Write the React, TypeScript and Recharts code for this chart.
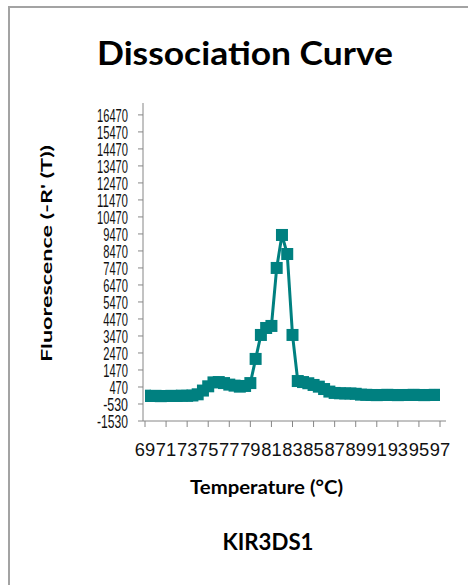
import * as React from "react";
import { LineChart, Line, XAxis, YAxis } from "recharts";

// Temperature (°C), one reading every 0.5 degree
const temperatures = [
  69, 69.5, 70, 70.5, 71, 71.5, 72, 72.5, 73, 73.5, 74, 74.5, 75, 75.5, 76,
  76.5, 77, 77.5, 78, 78.5, 79, 79.5, 80, 80.5, 81, 81.5, 82, 82.5, 83, 83.5,
  84, 84.5, 85, 85.5, 86, 86.5, 87, 87.5, 88, 88.5, 89, 89.5, 90, 90.5, 91,
  91.5, 92, 92.5, 93, 93.5, 94, 94.5, 95, 95.5, 96, 96.5, 97,
];

// Fluorescence (-R'(T))
const fluorescence = [
  -40, -60, -50, -70, -60, -50, -60, -40, -50, -30, 40, 260, 510, 740, 760,
  700, 610, 550, 490, 530, 700, 2120, 3530, 3940, 4060, 7470, 9410, 8290, 3530,
  820, 760, 690, 590, 490, 350, 200, 120, 100, 90, 90, 70, 20, 10, 0, -10, 0,
  10, 0, -10, 0, 0, 10, 0, -10, 0, 10, 0,
];

const xTicks = [69, 71, 73, 75, 77, 79, 81, 83, 85, 87, 89, 91, 93, 95, 97];
const yTicks = [
  -1530, -530, 470, 1470, 2470, 3470, 4470, 5470, 6470, 7470, 8470, 9470,
  10470, 11470, 12470, 13470, 14470, 15470, 16470,
];

const TEAL = "#008080";
const AXIS_GREY = "#868686";
const LABEL_FONT = "Lato, 'Open Sans', sans-serif";
const TICK_FONT = "'Liberation Sans', Arial, sans-serif";

function SquareDot(props: any) {
  const { cx, cy, index } = props;
  if (cx == null || cy == null) return null;
  return (
    <rect
      key={`dot-${index}`}
      x={cx - 6}
      y={cy - 6}
      width={12}
      height={12}
      fill={TEAL}
    />
  );
}

function YTick(props: any) {
  const { x, y, payload } = props;
  const label = String(payload.value);
  return (
    <text
      x={x}
      y={y}
      dy="0.36em"
      textAnchor="end"
      fontSize={19}
      fontFamily={TICK_FONT}
      fill="#111"
      textLength={label.length * 6.2}
      lengthAdjust="spacingAndGlyphs"
    >
      {label}
    </text>
  );
}

function XTick(props: any) {
  const { x, y, payload } = props;
  return (
    <text
      x={x}
      y={y}
      dy="0.71em"
      textAnchor="middle"
      fontSize={18}
      fontFamily={TICK_FONT}
      fill="#111"
      textLength={20.4}
      lengthAdjust="spacingAndGlyphs"
    >
      {String(payload.value)}
    </text>
  );
}

export default function App() {
  const chartData = React.useMemo(
    () =>
      temperatures.map((temp, i) => ({
        temp,
        value: fluorescence[i],
      })),
    []
  );

  return (
    <div
      style={{
        position: "absolute",
        left: 0,
        top: 0,
        width: 468,
        height: 585,
        overflow: "hidden",
        background: "#fff",
      }}
    >
      <div
        style={{
          position: "absolute",
          left: 8,
          top: 6,
          width: 480,
          height: 600,
          borderTop: "2px solid #a3a3a3",
          borderLeft: "2px solid #a3a3a3",
        }}
      />
      <div style={{ position: "absolute", left: 0, top: 0 }}>
        <LineChart
          width={468}
          height={585}
          data={chartData}
          margin={{ top: 103, right: 22, left: 83, bottom: 134 }}
        >
          <XAxis
            dataKey="temp"
            type="number"
            domain={[69, 97]}
            ticks={xTicks}
            interval={0}
            allowDataOverflow
            padding={{ left: 2, right: 6 }}
            height={30}
            tickSize={6}
            tickMargin={16}
            axisLine={{ stroke: AXIS_GREY }}
            tickLine={{ stroke: AXIS_GREY }}
            tick={<XTick />}
          />
          <YAxis
            type="number"
            domain={[-1530, 17170]}
            ticks={yTicks}
            interval={0}
            width={60}
            tickSize={5}
            tickMargin={10}
            axisLine={{ stroke: AXIS_GREY }}
            tickLine={{ stroke: AXIS_GREY }}
            tick={<YTick />}
          />
          <Line
            type="linear"
            dataKey="value"
            stroke={TEAL}
            strokeWidth={3}
            dot={SquareDot}
            activeDot={false}
            isAnimationActive={false}
          />
        </LineChart>
      </div>
      <svg
        width={468}
        height={585}
        style={{ position: "absolute", left: 0, top: 0, pointerEvents: "none" }}
      >
        <text
          x={245}
          y={65}
          textAnchor="middle"
          fontSize={33}
          fontWeight="bold"
          fontFamily={LABEL_FONT}
          fill="#000"
          textLength={296}
          lengthAdjust="spacingAndGlyphs"
        >
          Dissociation Curve
        </text>
        <text
          x={52}
          y={253.5}
          transform="rotate(-90, 52, 253.5)"
          textAnchor="middle"
          fontSize={16}
          fontWeight="bold"
          fontFamily={LABEL_FONT}
          fill="#000"
          textLength={217}
          lengthAdjust="spacingAndGlyphs"
        >
          Fluorescence (-R' (T))
        </text>
        <text
          x={266.5}
          y={494}
          textAnchor="middle"
          fontSize={19}
          fontWeight="bold"
          fontFamily={LABEL_FONT}
          fill="#000"
          textLength={153}
          lengthAdjust="spacingAndGlyphs"
        >
          Temperature (°C)
        </text>
        <text
          x={268}
          y={550}
          textAnchor="middle"
          fontSize={23}
          fontWeight="bold"
          fontFamily={LABEL_FONT}
          fill="#000"
          textLength={91}
          lengthAdjust="spacingAndGlyphs"
        >
          KIR3DS1
        </text>
      </svg>
    </div>
  );
}
